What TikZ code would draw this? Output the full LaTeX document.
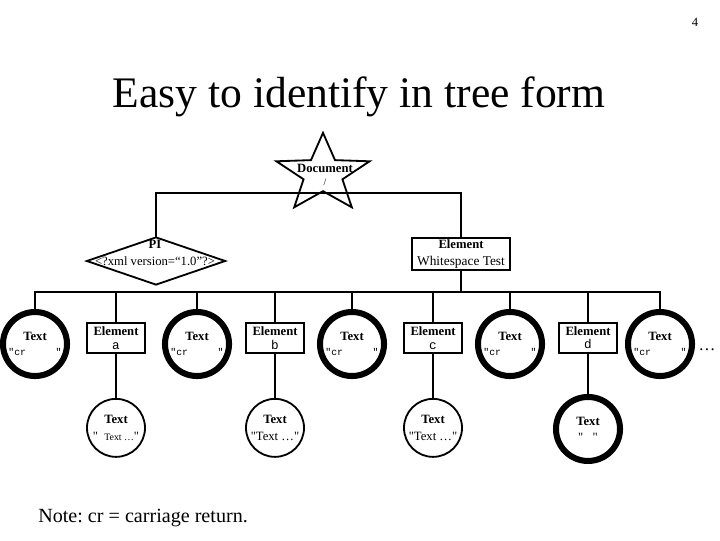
\documentclass[tikz,border=0pt]{standalone}
\usepackage{fontspec}
\setmainfont{Liberation Serif}
\setmonofont{Liberation Mono}
\usepackage{tikz}
\usetikzlibrary{
  shapes, shapes.geometric,
  positioning
}
\frenchspacing

\begin{document}
\begin{tikzpicture}[
  x=0.025cm, y=-0.025cm,
  every node/.style={font=\fontsize{9}{10.5}\selectfont, align=center, inner sep=0pt},
  link/.style={line width=1.4pt, line cap=rect},
  rootstar/.style={draw, star, star points=5, star point ratio=2.4,
                   minimum size=2.45cm, yscale=0.84, line width=1.3pt},
  pinode/.style={draw, diamond, minimum width=3.475cm,
                 minimum height=1.2cm, line width=1.3pt},
  elembox/.style={draw, rectangle, minimum width=1.45cm, minimum height=0.75cm,
                  line width=1.3pt},
  wsbox/.style={elembox, minimum width=2.45cm, minimum height=0.8cm},
  txtthick/.style={draw, circle, minimum size=1.6cm, line width=4.3pt},
  txtthin/.style={draw, circle, minimum size=1.45cm, line width=1.3pt},
]
\useasboundingbox (0,0) rectangle (720,540);

%% page number and title
\node (pgnum) at (695,22) {4};
\node (title) at (359,97) {\fontsize{31}{36}\selectfont Easy to identify in tree form};

%% root
\node[rootstar] (docstar) at (323,174) {};
\node (doc) at (325,175) {\textbf{Document}\\[-1pt]{\scriptsize /}};

%% second level
\node[pinode] (pi) at (156,261) {};
\node (pitxt) at (155,253) {\textbf{PI}\\[1pt]<?xml version=“1.0”?>};
\node[wsbox]  (ws) at (461,254) {\textbf{Element}\\[1pt]{\fontsize{9.5}{10}\selectfont Whitespace Test}};

%% children of WhitespaceTest
\node[txtthick] (t1) at (35,344)  {\textbf{Text}\\{\ttfamily\scriptsize "cr\ \ \ \ \ "}};
\node[elembox]  (ea) at (116,338) {\textbf{Element}\\[-1pt]{\ttfamily a}};
\node[txtthick] (t2) at (197,344) {\textbf{Text}\\{\ttfamily\scriptsize "cr\ \ \ \ \ "}};
\node[elembox]  (eb) at (275,338) {\textbf{Element}\\[-1pt]{\ttfamily b}};
\node[txtthick] (t3) at (352,344) {\textbf{Text}\\{\ttfamily\scriptsize "cr\ \ \ \ \ "}};
\node[elembox]  (ec) at (433,338) {\textbf{Element}\\[-1pt]{\ttfamily c}};
\node[txtthick] (t4) at (510,344) {\textbf{Text}\\{\ttfamily\scriptsize "cr\ \ \ \ \ "}};
\node[elembox]  (ed) at (588,338) {\textbf{Element}\\[-1pt]{\ttfamily d}};
\node[txtthick] (t5) at (660,344) {\textbf{Text}\\{\ttfamily\scriptsize "cr\ \ \ \ \ "}};
\node (more) at (707,350) {\fontsize{12}{12}\selectfont\ldots};

%% text content of the elements
\node[txtthin,  below=1.1cm of ea] (la) {\textbf{Text}\\[1pt]\textquotedbl\ \ {\scriptsize Text …}\textquotedbl};
\node[txtthin,  below=1.1cm of eb] (lb) {\textbf{Text}\\[1pt]\textquotedbl Text …\textquotedbl};
\node[txtthin,  below=1.1cm of ec] (lc) {\textbf{Text}\\[1pt]\textquotedbl Text …\textquotedbl};
\node[txtthick, below=1.0cm of ed] (ld) {\textbf{Text}\\[1pt]\textquotedbl\ \ \ \textquotedbl};

%% tree links
\coordinate (bus1) at (323,193);
\coordinate (bus2) at (461,292);
\draw[link] (pi.north) |- (bus1) -| (ws.north);
\draw[link] (ws.south) -- (bus2);
\draw[link] (t1.north) |- (bus2) -| (t5.north);
\foreach \n in {ea,t2,eb,t3,ec,t4,ed}
  \draw[link] (\n.north) -- (\n.north |- bus2);
\foreach \a/\b in {ea/la,eb/lb,ec/lc,ed/ld}
  \draw[link] (\a.south) -- (\b.north);

%% note
\node[anchor=west] (note) at (38,518) {\fontsize{14.3}{16}\selectfont Note: cr = carriage return.};

\end{tikzpicture}
\end{document}
